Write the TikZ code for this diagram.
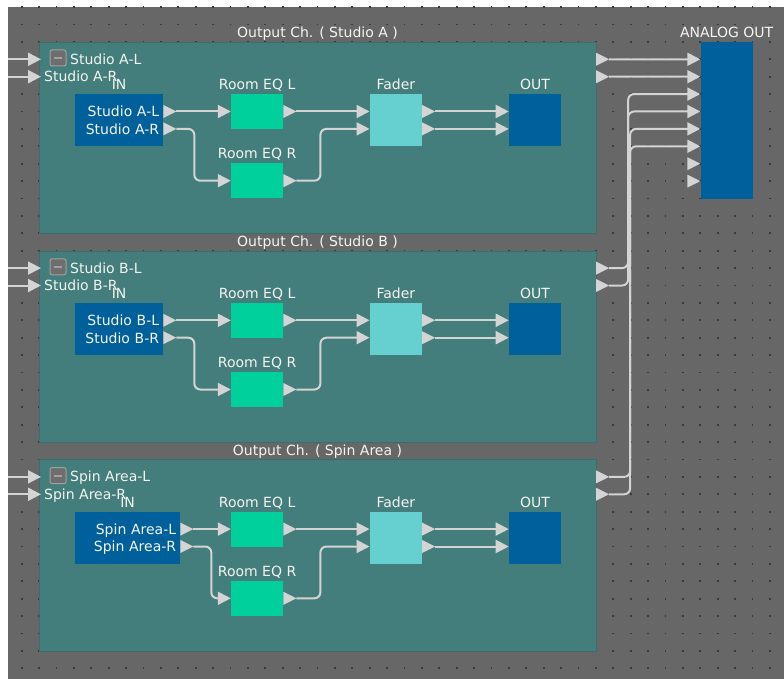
\documentclass[tikz,border=0pt]{standalone}
\usepackage{fontspec}
\setmainfont{DejaVu Sans}
\usetikzlibrary{arrows.meta, positioning, calc}
\definecolor{canvasgray}{HTML}{676767}
\definecolor{griddot}{HTML}{3A3A3A}
\definecolor{chteal}{HTML}{447E7C}
\definecolor{chtealborder}{HTML}{3A6D6B}
\definecolor{blockblue}{HTML}{00609C}
\definecolor{eqgreen}{HTML}{00D09C}
\definecolor{fadercyan}{HTML}{66CFD0}
\definecolor{wiregray}{HTML}{D4D4D4}
\definecolor{labelwhite}{HTML}{F4F4F0}
\definecolor{iconfill}{HTML}{6E6E6E}
\definecolor{iconborder}{HTML}{A0A0A0}
\tikzset{
  oport/.pic={
    \fill[wiregray] (0,-6.5) -- (13,0) -- (0,6.5) -- cycle;
    \coordinate (-tip) at (13,0);
  }
}
% one output channel: id, y offset, name, width of the IN text
\newcommand{\outch}[4]{%
  \begin{scope}[shift={(0,#2)}]
    \node[chframe, label={above:Output Ch. ( #3 )}] (#1-frame) at (317.5,137.6) {};
    \coordinate (#1-srcL) at (8,59.3);
    \coordinate (#1-srcR) at (8,76.7);
    \coordinate (#1-portL) at (41,59.3);
    \coordinate (#1-portR) at (41,76.7);
    \node[icon] (#1-icon) at (58,58) {\color{iconborder}\rule{8pt}{2pt}};
    \node[tag, anchor=base west] (#1-nameL) at (70,64.3) {#3-L};
    \node[tag, anchor=base west] (#1-nameR) at (44,82) {#3-R};
    \node[blk, fill=blockblue, anchor=west, minimum height=52.2pt, inner xsep=4pt,
      text width=#4, align=right, text=labelwhite, text height=10.6pt, text depth=17.4pt,
      label=above:IN] (#1-in) at (74.9,120.2) {#3-L\\#3-R};
    \node[blk, fill=eqgreen, minimum height=34.8pt, label=above:Room EQ L] (#1-eql) at (257.1,111.5) {};
    \node[blk, fill=eqgreen, minimum height=34.8pt, label=above:Room EQ R] (#1-eqr) at (257.1,180.7) {};
    \node[blk, fill=fadercyan, minimum height=52.2pt, label=above:Fader] (#1-fader) at (395.8,120.2) {};
    \node[blk, fill=blockblue, minimum height=52.2pt, label=above:OUT] (#1-out) at (535,120.2) {};
    % ports
    \pic (#1-inPL) at ($(#1-in.east)+(0,-8.7)$) {oport};
    \pic (#1-inPR) at ($(#1-in.east)+(0,8.7)$) {oport};
    \pic (#1-eqlP) at (#1-eql.east) {oport};
    \pic (#1-eqrP) at (#1-eqr.east) {oport};
    \pic (#1-fadPL) at ($(#1-fader.east)+(0,-8.7)$) {oport};
    \pic (#1-fadPR) at ($(#1-fader.east)+(0,8.7)$) {oport};
    \pic (#1-chPL) at (#1-frame.east |- #1-srcL) {oport};
    \pic (#1-chPR) at (#1-frame.east |- #1-srcR) {oport};
    % wires
    \draw[wire] (#1-srcL) -- (#1-portL);
    \draw[wire] (#1-srcR) -- (#1-portR);
    \draw[wire] (#1-inPL-tip) -- (#1-eql);
    \draw[wire] (#1-inPR-tip) -- ++(18,0) |- (#1-eqr);
    \draw[wire] (#1-eqlP-tip) -- (#1-fader.west |- #1-eqlP-tip);
    \draw[wire] (#1-eqrP-tip) -- ++(24,0) |- ($(#1-fader.west)+(0,8.7)$);
    \draw[wire] (#1-fadPL-tip) -- (#1-out.west |- #1-fadPL-tip);
    \draw[wire] (#1-fadPR-tip) -- (#1-out.west |- #1-fadPR-tip);
  \end{scope}}
\begin{document}
\begin{tikzpicture}[x=1pt, y=-1pt,
  font=\fontsize{14}{17.4}\selectfont,
  tag/.style={text=labelwhite, inner sep=0pt, text depth=0pt},
  every label/.style={tag},
  label distance=4pt,
  chframe/.style={draw=chtealborder, fill=chteal, minimum width=556.8pt, minimum height=191.4pt, inner sep=0pt},
  blk/.style={minimum width=52.2pt, inner sep=0pt},
  icon/.style={draw=iconborder, fill=iconfill, line width=1pt, rounded corners=2pt, minimum size=16pt, inner sep=0pt},
  wire/.style={draw=wiregray, line width=2pt, rounded corners=6pt, -{Triangle[length=13pt, width=13pt]}}]
  \useasboundingbox (0,0) rectangle (784,679);
  \fill[white] (0,0) rectangle (784,679);
  \fill[canvasgray] (8,7) rectangle (784,679);
  \begin{scope}
    \clip (8,7) rectangle (784,679);
    \foreach \i in {0,...,43}
      \foreach \j in {0,...,38}
        \fill[griddot] ({21.7+17.4*\i-0.9},{7.1+17.4*\j-0.9}) rectangle ++(1.8,1.8);
  \end{scope}

  \outch{A}{0}{Studio A}{80pt}
  \outch{B}{208.8}{Studio B}{80pt}
  \outch{C}{417.6}{Spin Area}{97pt}

  \node[blk, fill=blockblue, anchor=north west, minimum height=156.6pt, label=above:ANALOG OUT] (aout) at (700.3,41.9) {};
  \foreach \k in {1,...,8}
    \coordinate (aout-in\k) at ($(aout.north west)+(0,17.4*\k)$);

  \draw[wire] (A-chPL-tip) -- (aout-in1);
  \draw[wire] (A-chPR-tip) -- (aout-in2);
  \draw[wire] (B-chPL-tip) -- ++(19,0) |- (aout-in3);
  \draw[wire] (B-chPR-tip) -- ++(19,0) |- (aout-in4);
  \draw[wire] (C-chPL-tip) -- ++(21,0) |- (aout-in5);
  \draw[wire] (C-chPR-tip) -- ++(21,0) |- (aout-in6);
  \foreach \k in {7,8}
    \pic (aout-free\k) at ($(aout-in\k)+(-13,0)$) {oport};
\end{tikzpicture}
\end{document}
